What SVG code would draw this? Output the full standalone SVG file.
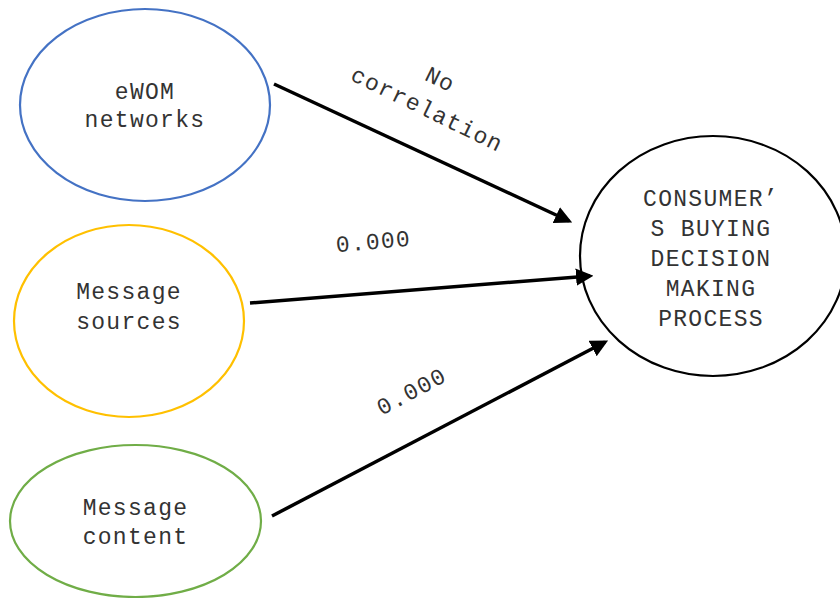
<svg xmlns="http://www.w3.org/2000/svg" width="840" height="598" viewBox="0 0 840 598">
<defs>
<style>
.t{font-family:"Liberation Mono","Courier New",monospace;font-size:23px;fill:#333;text-anchor:middle;letter-spacing:1.3px}
.n{fill:#fff;stroke-width:2.2}
.e{stroke:#000;stroke-width:3.5;fill:none;marker-end:url(#ah)}
</style>
<marker id="ah" markerWidth="5" markerHeight="5" refX="4" refY="2.5" orient="auto" markerUnits="strokeWidth">
<path d="M0,0 L5,2.5 L0,5 Z" fill="#000"/>
</marker>
</defs>
<rect width="840" height="598" fill="#fff"/>
<g id="eWOM">
<ellipse class="n" cx="145" cy="105" rx="125" ry="96" stroke="#4472C4"/>
<text class="t" x="145" y="99">eWOM</text>
<text class="t" x="145" y="127">networks</text>
</g>
<g id="sources">
<ellipse class="n" cx="129" cy="321" rx="115" ry="96" stroke="#FFC000"/>
<text class="t" x="129" y="299">Message</text>
<text class="t" x="129" y="329">sources</text>
</g>
<g id="content">
<ellipse class="n" cx="135.5" cy="521" rx="125.5" ry="76" stroke="#70AD47"/>
<text class="t" x="135.5" y="515">Message</text>
<text class="t" x="135.5" y="544">content</text>
</g>
<g id="consumer">
<ellipse class="n" cx="713" cy="256" rx="133" ry="120" stroke="#000"/>
<text class="t" x="711" y="206">CONSUMER’</text>
<text class="t" x="711" y="236">S BUYING</text>
<text class="t" x="711" y="266">DECISION</text>
<text class="t" x="711" y="296">MAKING</text>
<text class="t" x="711" y="326">PROCESS</text>
</g>
<g id="connectors">
<line class="e" x1="274" y1="84" x2="569" y2="221"/>
<line class="e" x1="250" y1="303" x2="590" y2="276"/>
<line class="e" x1="272" y1="516" x2="605" y2="342"/>
<text class="t" transform="translate(437,86) rotate(26)" x="0" y="0">No</text>
<text class="t" transform="translate(424,116) rotate(26)" x="0" y="0">correlation</text>
<text class="t" transform="translate(374,249) rotate(-5)" x="0" y="0">0.000</text>
<text class="t" transform="translate(415,398) rotate(-28)" x="0" y="0">0.000</text>
</g>
</svg>
